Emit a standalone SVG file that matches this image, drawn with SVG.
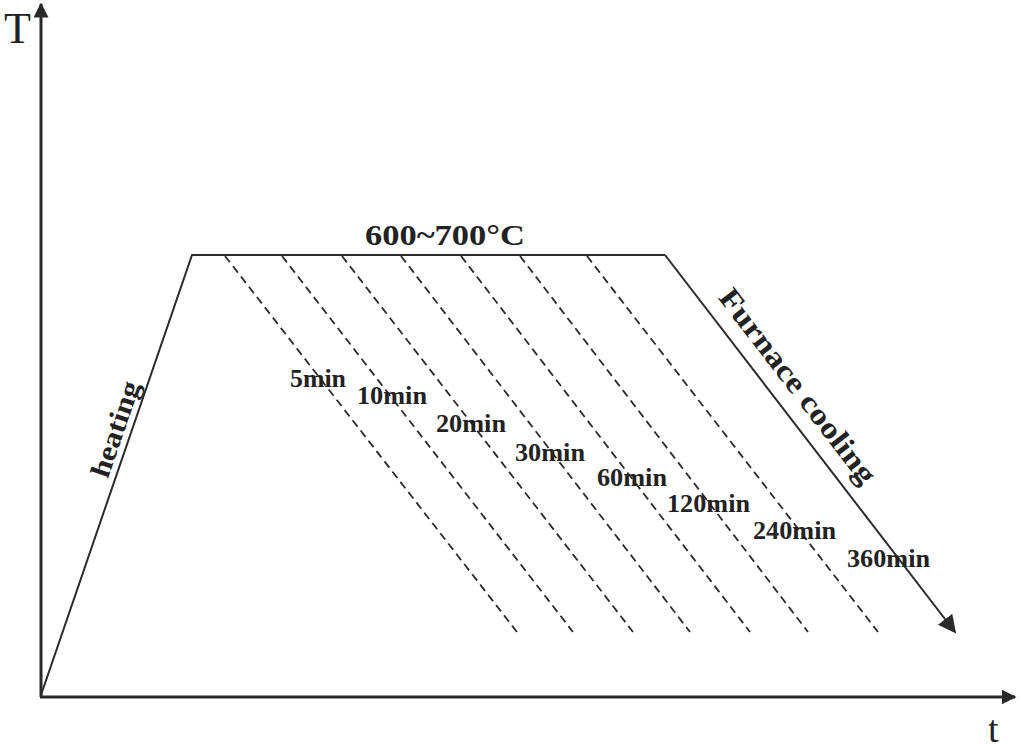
<svg xmlns="http://www.w3.org/2000/svg" width="1020" height="750" viewBox="0 0 1020 750">
<defs>
<style>
.ax{stroke:#2a2a2a;stroke-width:3;fill:none}
.ln{stroke:#2a2a2a;stroke-width:2;fill:none}
.ds{stroke:#2a2a2a;stroke-width:1.8;fill:none;stroke-dasharray:8 5}
.lb{font-family:"Liberation Serif","Times New Roman",serif;font-weight:bold;fill:#222}
.tm{font-family:"Liberation Serif","Times New Roman",serif;font-size:25px;font-weight:bold;fill:#222}
.axl{font-family:"Liberation Serif","Times New Roman",serif;fill:#222}
</style>
<marker id="ah" viewBox="0 0 10 10" refX="9" refY="5" markerWidth="5" markerHeight="5" orient="auto" markerUnits="strokeWidth">
<path d="M0,0 L10,5 L0,10 Z" fill="#2a2a2a"/>
</marker>
<marker id="ah2" viewBox="0 0 10 10" refX="9" refY="5" markerWidth="9" markerHeight="9" orient="auto" markerUnits="strokeWidth">
<path d="M0,0 L10,5 L0,10 Z" fill="#2a2a2a"/>
</marker>
</defs>
<g id="axes">
<line class="ax" x1="41" y1="697" x2="41" y2="4" marker-end="url(#ah)"/>
<line class="ax" x1="40" y1="697" x2="1015" y2="697" marker-end="url(#ah)"/>
<text class="axl" x="4" y="43" font-size="44">T</text>
<text class="axl" x="988" y="742" font-size="38">t</text>
</g>
<g id="connectors">
<polyline class="ln" points="41,695 192,255 665,255"/>
<line class="ln" x1="665" y1="255" x2="955" y2="632" marker-end="url(#ah2)"/>
<line class="ds" x1="225" y1="256" x2="517" y2="632"/>
<line class="ds" x1="282" y1="256" x2="573" y2="632"/>
<line class="ds" x1="342" y1="256" x2="633" y2="632"/>
<line class="ds" x1="401" y1="256" x2="690" y2="632"/>
<line class="ds" x1="461" y1="256" x2="750" y2="632"/>
<line class="ds" x1="520" y1="256" x2="808" y2="632"/>
<line class="ds" x1="587" y1="256" x2="878" y2="632"/>
</g>
<g id="label-temp">
<text class="lb" x="365" y="245" font-size="30" textLength="160" lengthAdjust="spacingAndGlyphs">600~700°C</text>
</g>
<g id="label-heating">
<text class="lb" font-size="28" text-anchor="middle" textLength="100" lengthAdjust="spacingAndGlyphs" transform="translate(124,432) rotate(-71)">heating</text>
</g>
<g id="label-cooling">
<text class="lb" font-size="30" text-anchor="middle" textLength="238" lengthAdjust="spacingAndGlyphs" transform="translate(790,392) rotate(52.4)">Furnace cooling</text>
</g>
<g id="times">
<text class="tm" x="290" y="387" textLength="56" lengthAdjust="spacingAndGlyphs">5min</text>
<text class="tm" x="357" y="404" textLength="70" lengthAdjust="spacingAndGlyphs">10min</text>
<text class="tm" x="436" y="432" textLength="70" lengthAdjust="spacingAndGlyphs">20min</text>
<text class="tm" x="515" y="461" textLength="70" lengthAdjust="spacingAndGlyphs">30min</text>
<text class="tm" x="597" y="486" textLength="70" lengthAdjust="spacingAndGlyphs">60min</text>
<text class="tm" x="667" y="512" textLength="83" lengthAdjust="spacingAndGlyphs">120min</text>
<text class="tm" x="753" y="539" textLength="83" lengthAdjust="spacingAndGlyphs">240min</text>
<text class="tm" x="847" y="567" textLength="83" lengthAdjust="spacingAndGlyphs">360min</text>
</g>
</svg>
